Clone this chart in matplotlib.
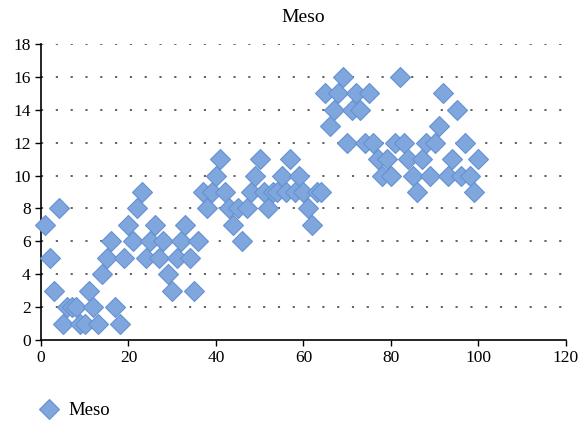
import matplotlib.pyplot as plt
from matplotlib.lines import Line2D

plt.rcParams['font.family'] = ['Liberation Serif', 'DejaVu Serif']

# data
x = list(range(1, 101))
y = [7, 5, 3, 8, 1, 2, 2, 2, 1, 1,
     3, 2, 1, 4, 5, 6, 2, 1, 5, 7,
     6, 8, 9, 5, 6, 7, 5, 6, 4, 3,
     5, 6, 7, 5, 3, 6, 9, 8, 9, 10,
     11, 9, 8, 7, 8, 6, 8, 9, 10, 11,
     9, 8, 9, 9, 10, 9, 11, 9, 10, 9,
     8, 7, 9, 9, 15, 13, 14, 15, 16, 12,
     14, 15, 14, 12, 15, 12, 11, 10, 11, 10,
     12, 16, 12, 11, 10, 9, 11, 12, 10, 12,
     13, 15, 10, 11, 14, 10, 12, 10, 9, 11]

fig = plt.figure(figsize=(5.8, 4.25), dpi=100)
ax = fig.add_axes([0.0707, 0.2, 0.905, 0.6965])

ax.plot(x, y, linestyle='none', marker='D', markersize=10,
        markerfacecolor='#80A7DD', markeredgecolor='#6592D3',
        markeredgewidth=0.8, clip_on=False, zorder=3)

ax.set_xlim(0, 120)
ax.set_ylim(0, 18)
ax.set_xticks(range(0, 121, 20))
ax.set_yticks(range(0, 19, 2))
ax.tick_params(labelsize=12.5, direction='out', length=4, width=1, colors='black')
for yy in range(2, 19, 2):
    ax.axhline(yy, color='#555555', linestyle=(0, (1.2, 7)), linewidth=1.3, zorder=1)
ax.spines['top'].set_visible(False)
ax.spines['right'].set_visible(False)
ax.spines['left'].set_linewidth(1.2)
ax.spines['bottom'].set_linewidth(1.2)

ax.set_title('Meso', fontsize=14, pad=16)

handle = Line2D([], [], linestyle='none', marker='D', markersize=10,
                markerfacecolor='#80A7DD', markeredgecolor='#6592D3',
                markeredgewidth=0.8)
fig.legend([handle], ['Meso'], loc='lower left', bbox_to_anchor=(0.029, -0.026),
           frameon=False, fontsize=13.5, handletextpad=0.25, handlelength=1.6)

fig.savefig('out.png', dpi=100)
